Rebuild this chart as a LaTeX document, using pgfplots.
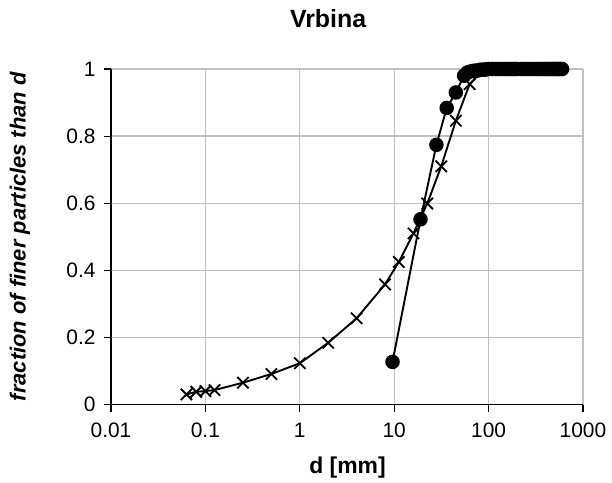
\documentclass[border=0pt]{standalone}
\usepackage{pgfplots}
\pgfplotsset{compat=1.18}
\usepackage{fontspec}
\setmainfont{Liberation Sans}
\definecolor{gridgray}{RGB}{192,192,192}
\begin{document}
\begin{tikzpicture}
\path[use as bounding box] (0,0) rectangle (612bp,483bp);
\begin{axis}[
  at={(111bp,78.5bp)}, anchor=south west,
  scale only axis, width=472bp, height=335.5bp,
  xmode=log, xmin=0.01, xmax=1000, ymin=0, ymax=1,
  xtick={0.01,0.1,1,10,100,1000},
  xticklabels={0.01,0.1,1,10,100,1000},
  ytick={0,0.2,0.4,0.6,0.8,1},
  yticklabels={0,0.2,0.4,0.6,0.8,1},
  xminorticks=false,
  axis x line*=bottom, axis y line*=left,
  axis line style={black, line width=1.1bp, -},
  tick align=outside, major tick length=7bp,
  tick style={black, line width=1.1bp},
  grid=major, major grid style={gridgray, line width=1.2bp},
  /pgf/number format/assume math mode=true,
  ticklabel style={font=\fontsize{21}{24}\selectfont},
  xticklabel style={yshift=-8bp},
  yticklabel style={xshift=-5bp},
  title={Vrbina},
  title style={font=\bfseries\fontsize{25}{29}\selectfont, at={(axis description cs:0.46,1.131)}, anchor=center},
  xlabel={d [mm]},
  xlabel style={font=\bfseries\fontsize{23}{26}\selectfont, at={(axis description cs:0.501,-0.189)}, anchor=center},
  ylabel={fraction of finer particles than d},
  ylabel style={font=\bfseries\itshape\fontsize{22}{26}\selectfont, at={(axis description cs:-0.193,0.5)}, anchor=center, rotate=0},
  clip=false,
]
\addplot[black, line width=1.9bp, mark=x, mark size=8bp, mark options={line width=1.8bp}] coordinates {
(0.063,0.030) (0.08,0.038) (0.1,0.040) (0.125,0.043) (0.25,0.065) (0.5,0.091)
(1,0.123) (2,0.184) (4,0.257) (8,0.358) (11.2,0.425) (16,0.51) (22.4,0.599)
(31.5,0.71) (45,0.846) (63,0.955) (90,1.0) (125,1.0)
};
\addplot[black, line width=1.9bp, mark=*, mark size=6.3bp] coordinates {
(9.6,0.127) (19,0.552) (28,0.774) (36,0.884) (45,0.930) (55,0.98) (60,0.99)
(65,0.993) (70,0.995) (75,0.995) (80,0.997) (85,0.998) (90,0.998) (95,0.999)
(100,1) (110,1) (120,1) (130,1) (140,1) (150,1) (160,1) (170,1) (180,1) (190,1)
(200,1) (220,1) (240,1) (260,1) (280,1) (300,1) (320,1) (340,1) (360,1) (380,1)
(400,1) (420,1) (440,1) (460,1) (480,1) (500,1) (520,1) (540,1) (560,1) (580,1) (600,1)
};
\end{axis}
\end{tikzpicture}
\end{document}
